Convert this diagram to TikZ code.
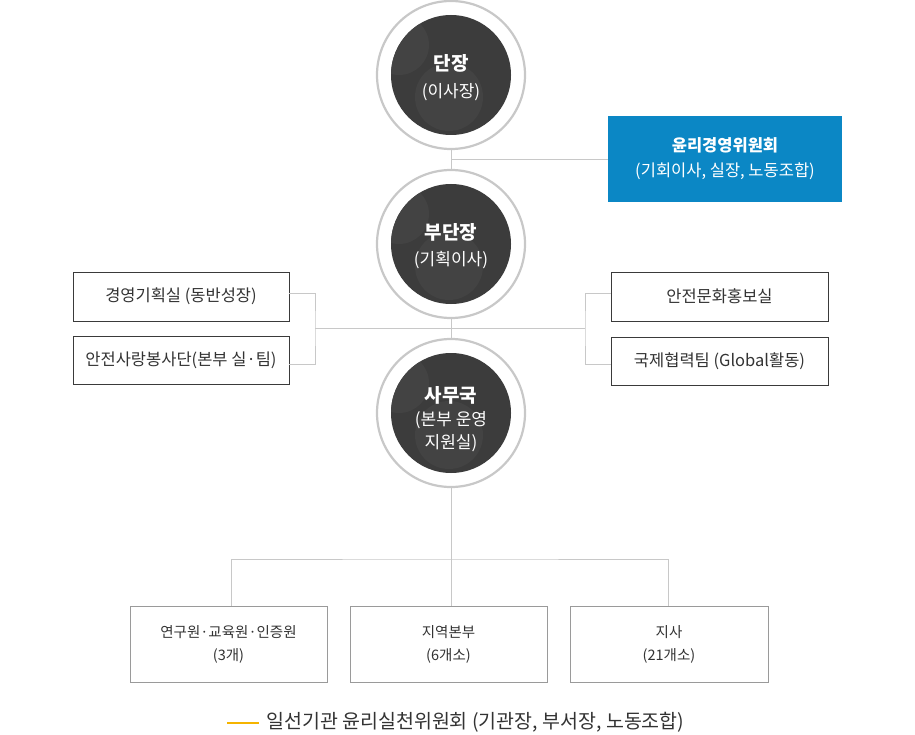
\documentclass[tikz,border=0pt]{standalone}
\usepackage{fontspec}
\setmainfont{Noto Sans CJK KR}
\usetikzlibrary{calc}
\definecolor{ring}{HTML}{C8C8C8}
\definecolor{darkc}{HTML}{3C3C3C}
\definecolor{blobc}{HTML}{434343}
\definecolor{linec}{HTML}{C8C8C8}
\definecolor{txt}{HTML}{333333}
\definecolor{blueb}{HTML}{0B87C5}
\definecolor{boxline}{HTML}{3A3A3A}
\definecolor{bboxline}{HTML}{9A9A9A}
\definecolor{legendc}{HTML}{F5B400}
\begin{document}
\begin{tikzpicture}[x=1pt,y=-1pt,
  circ/.style={circle,minimum size=148pt,inner sep=0pt,draw=ring,line width=2.2pt,
    path picture={
      \coordinate (pc) at (path picture bounding box.center);
      \fill[darkc] (pc) circle (60pt);
      \begin{scope}
        \clip (pc) circle (60pt);
        \fill[blobc] ($(pc)+(-52pt,30pt)$) circle (30pt);
        \fill[blobc] ($(pc)+(-2pt,-22pt)$) circle (34pt);
      \end{scope}
    }},
  ctext/.style={text=white,align=center,inner sep=0pt,font=\fontsize{17}{23}\selectfont},
  conn/.style={draw=linec,line width=0.8pt},
  topbox/.style={draw=boxline,line width=0.8pt,fill=white,text=txt,font=\fontsize{16.5}{18}\selectfont},
  botbox/.style={draw=bboxline,line width=0.8pt,fill=white,text=txt,align=center,
    minimum height=76pt,font=\fontsize{14.5}{23}\selectfont},
]
\useasboundingbox (0,0) rectangle (915,735);
\fill[white] (0,0) rectangle (915,735);

\coordinate (j1) at (451,159);
\coordinate (lj) at (315,328);
\coordinate (rj) at (585,328);
\coordinate (bj) at (451,559);

% circles
\node[circ] (c1) at (451,75) {};
\node[circ] (c2) at (451,244) {};
\node[circ] (c3) at (451,413) {};
\node[ctext] (c1t) at ([yshift=-2.5pt]c1.center) {{\fontsize{19}{23}\selectfont\bfseries 단장}\\[4pt](이사장)};
\node[ctext] (c2t) at ([yshift=-2.5pt]c2.center) {{\fontsize{19}{23}\selectfont\bfseries 부단장}\\[3pt](기획이사)};
\node[ctext] (c3t) at ([yshift=-6pt]c3.center) {{\fontsize{19}{23}\selectfont\bfseries 사무국}\\(본부 운영\\지원실)};

% ethics committee
\node[fill=blueb,text=white,align=center,minimum width=234pt,minimum height=86pt,inner sep=0pt,
  font=\fontsize{16.5}{25}\selectfont] (eth) at (725,159) {{\bfseries 윤리경영위원회}\\(기회이사, 실장, 노동조합)};

% side boxes
\node[topbox,minimum width=216pt,minimum height=49pt] (lb1) at (181,296.5) {경영기획실 (동반성장)};
\node[topbox,minimum width=216pt,minimum height=48pt] (lb2) at (181,360) {안전사랑봉사단(본부 실·팀)};
\node[topbox,minimum width=217pt,minimum height=49pt] (rb1) at (719.5,296.5) {안전문화홍보실};
\node[topbox,minimum width=217pt,minimum height=48pt] (rb2) at (719.5,361) {국제협력팀 (Global활동)};

% bottom boxes
\node[botbox,minimum width=197pt] (bb1) at (228.5,644) {연구원·교육원·인증원\\(3개)};
\node[botbox,minimum width=197pt] (bb2) at (448.5,644) {지역본부\\(6개소)};
\node[botbox,minimum width=198pt] (bb3) at (669,644) {지사\\(21개소)};

% connectors
\draw[conn] (c1.south) -- (c2.north);
\draw[conn] (j1) -- (eth.west);
\draw[conn] (c2.south) -- (c3.north);
\draw[conn] (lj) -- (rj);
\draw[conn] ([yshift=3.5pt]lb1.east) -| (lj) |- ([yshift=-4pt]lb2.east);
\draw[conn] ([yshift=3.5pt]rb1.west) -| (rj) |- ([yshift=-3pt]rb2.west);
\draw[conn] (c3.south) -- (bj);
\draw[conn] ([xshift=2.5pt]bb1.north) |- (bj) -| ([xshift=-1pt]bb3.north);
\draw[conn] (bj) -- ([xshift=2.5pt]bb2.north);

% legend
\coordinate (lg1) at (227,723);
\coordinate (lg2) at (259,723);
\draw[legendc,line width=2pt] (lg1) -- (lg2);
\node[anchor=west,text=txt,inner sep=0pt,font=\fontsize{19.5}{22}\selectfont] (leg) at (266,722) {일선기관 윤리실천위원회 (기관장, 부서장, 노동조합)};
\end{tikzpicture}
\end{document}
